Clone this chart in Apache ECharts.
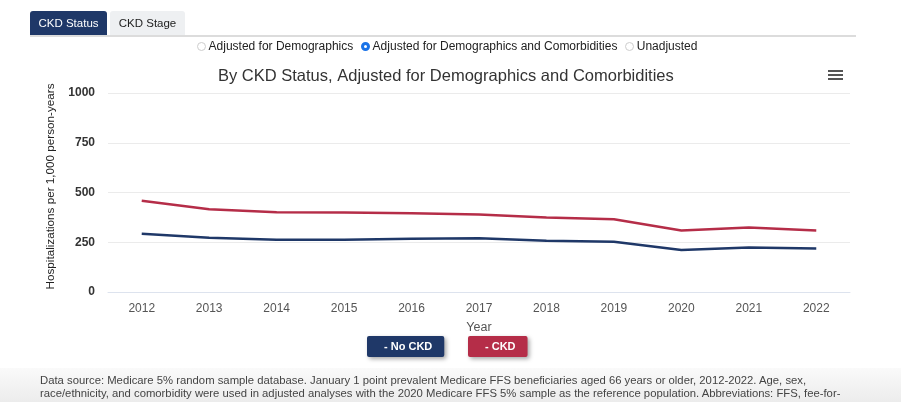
<!DOCTYPE html>
<html><head><meta charset="utf-8">
<script src="https://cdn.jsdelivr.net/npm/echarts@6/dist/echarts.min.js"></script>
<style>
html,body{margin:0;padding:0;width:901px;height:402px;overflow:hidden;background:#fff;font-family:"Liberation Sans",Arial,sans-serif;}
#tabs{position:absolute;left:30px;top:11px;width:826px;height:24px;border-bottom:2px solid #dcdcdc;}
.tab{position:absolute;top:0;height:24px;line-height:24px;font-size:11.5px;text-align:center;border-radius:3px 3px 0 0;}
#t1{left:0;width:77px;background:#1f3868;color:#fff;}
#t2{left:80px;width:75px;background:#eef0f2;color:#222;}
#radios{position:absolute;left:0;width:890px;top:39px;text-align:center;font-size:12px;color:#222;}
.r{display:inline-block;width:9px;height:9px;border-radius:50%;border:1px solid #ccc;vertical-align:-1px;margin:0 3px 0 4px;box-sizing:border-box;}
.r.on{border:3px solid #1a73e8;}
#chart{position:absolute;left:0;top:0;width:901px;height:402px;}
#menu{position:absolute;left:828px;top:70px;width:15px;}
#menu div{height:2px;background:#555;margin-bottom:2px;}
#foot{position:absolute;left:0;top:368px;width:901px;height:34px;background:linear-gradient(#fafafa,#ececec);}
#foot p{margin:0;position:absolute;left:40px;top:6px;width:805px;font-family:"Liberation Sans Narrow","Liberation Sans",Arial,sans-serif;font-size:11.3px;line-height:13px;color:#444;}
</style></head><body>
<div id="chart"></div>
<div id="tabs"><div class="tab" id="t1">CKD Status</div><div class="tab" id="t2">CKD Stage</div></div>
<div id="radios"><span class="r"></span>Adjusted for Demographics <span class="r on"></span>Adjusted for Demographics and Comorbidities <span class="r"></span>Unadjusted</div>
<div id="menu"><div></div><div></div><div></div></div>
<div id="foot"><p>Data source: Medicare 5% random sample database. January 1 point prevalent Medicare FFS beneficiaries aged 66 years or older, 2012-2022. Age, sex, race/ethnicity, and comorbidity were used in adjusted analyses with the 2020 Medicare FFS 5% sample as the reference population. Abbreviations: FFS, fee-for-service</p></div>
<script>
const years = ['2012','2013','2014','2015','2016','2017','2018','2019','2020','2021','2022'];
const noCkd = [293, 273, 262, 262, 267, 270, 258, 253, 211, 223, 218];
const ckd = [458, 416, 401, 400, 396, 389, 374, 366, 309, 324, 309];
const yTicks = [0, 250, 500, 750, 1000];

const chart = echarts.init(document.getElementById('chart'));
const legendBase = {
  top: 336, itemWidth: 0, itemHeight: 0, icon: 'none', padding: [5, 12],
  borderRadius: 2, shadowBlur: 4, shadowColor: 'rgba(0,0,0,0.35)', shadowOffsetX: 2, shadowOffsetY: 2,
  formatter: n => '- ' + n,
  textStyle: {color: '#fff', fontSize: 11, fontWeight: 'bold', fontFamily: 'Liberation Sans'}
};
chart.setOption({
  animation: false,
  title: {text: 'By CKD Status, Adjusted for Demographics and Comorbidities', left: 213, top: 63,
    textStyle: {fontSize: 16.5, fontWeight: 'normal', color: '#333', fontFamily: 'Liberation Sans'}},
  legend: [
    Object.assign({}, legendBase, {data: ['No CKD'], left: 367, backgroundColor: '#1f3868'}),
    Object.assign({}, legendBase, {data: ['CKD'], left: 468, backgroundColor: '#b52d48'})
  ],
  grid: {left: 108, right: 51, top: 93, bottom: 110},
  xAxis: {type: 'category', data: years, boundaryGap: true, name: 'Year', nameLocation: 'middle', nameGap: 29,
    nameTextStyle: {fontSize: 12.5, color: '#555', fontFamily: 'Liberation Sans'},
    axisLine: {lineStyle: {color: '#dde3ee', width: 1}}, axisTick: {show: false},
    axisLabel: {color: '#555', fontSize: 12, margin: 11, fontFamily: 'Liberation Sans'}},
  yAxis: {type: 'value', min: yTicks[0], max: yTicks[yTicks.length-1], interval: 250,
    name: 'Hospitalizations per 1,000 person-years', nameLocation: 'middle', nameGap: 51,
    nameTextStyle: {fontSize: 11.7, color: '#222', fontFamily: 'Liberation Sans', padding: [0, 0, 0, 12]},
    axisLabel: {color: '#333', fontSize: 12, fontWeight: 'bold', margin: 13, fontFamily: 'Liberation Sans',
      formatter: v => String(v)},
    splitLine: {lineStyle: {color: '#ebebeb'}}},
  series: [
    {name: 'No CKD', type: 'line', data: noCkd, symbol: 'none', lineStyle: {width: 2.5, color: '#1f3868'}, itemStyle: {color: '#1f3868'}},
    {name: 'CKD', type: 'line', data: ckd, symbol: 'none', lineStyle: {width: 2.5, color: '#b52d48'}, itemStyle: {color: '#b52d48'}}
  ]
});
</script>
</body></html>
